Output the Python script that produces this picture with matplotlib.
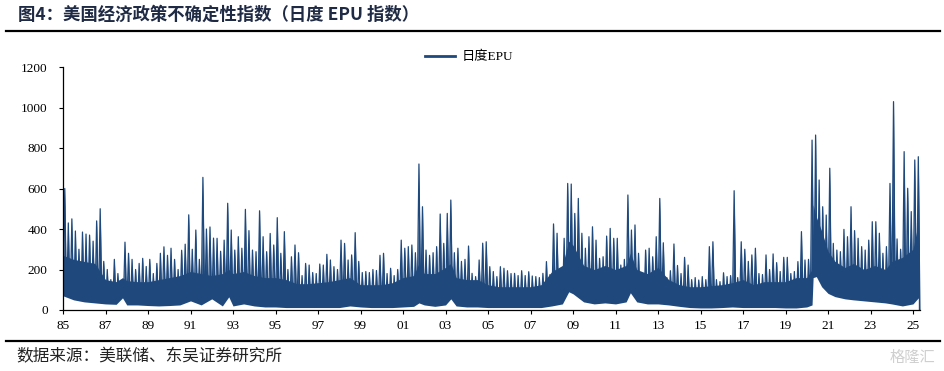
import matplotlib
matplotlib.use('Agg')
import matplotlib.pyplot as plt
from matplotlib.lines import Line2D
import numpy as np

# ---------------- data ----------------
# Bi-monthly maxima of the daily EPU index, Jan 1985 - Mar 2025
epu_peak = [
    600, 430, 450, 390, 300, 385,   # 1985
    375, 370, 340, 440, 500, 240,   # 1986
    200, 150, 250, 180, 130, 335,   # 1987
    280, 250, 200, 230, 255, 215,   # 1988
    250, 180, 230, 280, 312, 270,   # 1989
    305, 250, 200, 295, 325, 470,   # 1990
    300, 395, 250, 655, 400, 410,   # 1991
    355, 354, 290, 345, 527, 395,   # 1992
    296, 362, 305, 497, 392, 296,   # 1993
    288, 490, 362, 288, 378, 321,   # 1994
    456, 280, 387, 200, 263, 321,   # 1995
    283, 170, 230, 222, 185, 180,   # 1996
    227, 222, 275, 247, 214, 200,   # 1997
    345, 329, 247, 272, 382, 240,   # 1998
    185, 190, 185, 200, 195, 270,   # 1999
    280, 180, 206, 170, 200, 345,   # 2000
    305, 313, 321, 283, 721, 510,   # 2001
    296, 270, 283, 313, 474, 329,   # 2002
    477, 543, 283, 305, 240, 250,   # 2003
    316, 181, 165, 247, 330, 337,   # 2004
    214, 190, 165, 214, 206, 194,   # 2005
    180, 181, 170, 194, 170, 189,   # 2006
    168, 165, 160, 181, 239, 175,   # 2007
    425, 379, 200, 354, 625, 622,   # 2008
    477, 551, 379, 305, 362, 411,   # 2009
    345, 255, 263, 365, 403, 354,   # 2010
    354, 222, 250, 568, 395, 420,   # 2011
    280, 181, 296, 305, 263, 362,   # 2012
    551, 332, 160, 194, 326, 220,   # 2013
    180, 260, 222, 150, 160, 148,   # 2014
    165, 150, 313, 337, 150, 140,   # 2015
    184, 165, 170, 589, 160, 337,   # 2016
    300, 240, 272, 305, 180, 175,   # 2017
    272, 200, 277, 234, 190, 260,   # 2018
    260, 180, 190, 239, 387, 247,   # 2019
    250, 839, 864, 642, 510, 469,   # 2020
    700, 329, 296, 288, 398, 362,   # 2021
    510, 392, 354, 313, 296, 345,   # 2022
    436, 436, 379, 280, 313, 625,   # 2023
    1029, 351, 300, 782, 601, 486,  # 2024
    741, 757,                       # 2025
]

# Dense body of the daily series: lower edge (floor) and solid-band top
band_x = [1985.0, 1985.5, 1986.0, 1986.5, 1987.0, 1987.5, 1987.8, 1988.0, 1988.5,
          1989.0, 1989.5, 1990.0, 1990.5, 1991.0, 1991.5, 1992.0, 1992.5, 1992.8,
          1993.0, 1993.5, 1994.0, 1994.5, 1995.0, 1995.5, 1996.0, 1996.5, 1997.0,
          1997.5, 1998.0, 1998.5, 1999.0, 1999.5, 2000.0, 2000.5, 2001.0, 2001.5,
          2001.75, 2002.0, 2002.5, 2003.0, 2003.25, 2003.5, 2004.0, 2004.5, 2005.0,
          2005.5, 2006.0, 2006.5, 2007.0, 2007.5, 2008.0, 2008.5, 2008.8, 2009.0,
          2009.5, 2010.0, 2010.5, 2011.0, 2011.5, 2011.7, 2012.0, 2012.5, 2013.0,
          2013.5, 2014.0, 2014.5, 2015.0, 2015.5, 2016.0, 2016.5, 2017.0, 2017.5,
          2018.0, 2018.5, 2019.0, 2019.5, 2020.0, 2020.25, 2020.3, 2020.45, 2020.7,
          2021.0, 2021.33, 2021.8, 2022.2, 2022.7, 2023.2, 2023.7, 2024.0, 2024.5,
          2025.0, 2025.25]
band_floor = [70, 50, 40, 35, 30, 28, 60, 25, 25,
              22, 20, 22, 25, 45, 25, 55, 20, 65,
              20, 30, 20, 15, 15, 12, 12, 12, 12,
              12, 12, 20, 15, 12, 12, 12, 15, 18,
              35, 25, 18, 25, 55, 20, 15, 15, 12,
              12, 12, 12, 12, 12, 20, 30, 90, 80,
              40, 30, 35, 30, 40, 85, 40, 30, 30,
              25, 18, 12, 10, 10, 12, 15, 12, 12,
              12, 12, 10, 10, 15, 25, 160, 165, 115,
              82, 66, 55, 50, 45, 40, 35, 30, 20,
              30, 60]
band_top = [270, 250, 240, 230, 150, 140, 160, 145, 140,
            140, 150, 160, 170, 190, 180, 170, 180, 200,
            180, 190, 170, 160, 160, 150, 130, 130, 135,
            140, 150, 160, 125, 125, 125, 135, 160, 170,
            230, 180, 180, 210, 230, 160, 150, 150, 125,
            115, 115, 115, 115, 125, 190, 220, 340, 320,
            220, 200, 220, 200, 220, 280, 200, 180, 210,
            150, 125, 115, 115, 120, 125, 135, 150, 125,
            140, 140, 140, 160, 160, 200, 520, 460, 390,
            290, 240, 210, 230, 200, 220, 200, 240, 260,
            300, 430]

series_name = '日度EPU'
xtick_years = list(range(1985, 2026, 2))
xtick_labels = ['85', '87', '89', '91', '93', '95', '97', '99', '01', '03', '05',
                '07', '09', '11', '13', '15', '17', '19', '21', '23', '25']
yticks = [0, 200, 400, 600, 800, 1000, 1200]

title = '图4：美国经济政策不确定性指数（日度 EPU 指数）'
source = '数据来源：美联储、东吴证券研究所'

# ---------------- drawing ----------------
W, H = 945, 371
color = '#1f497d'
serif = ['Liberation Serif', 'Noto Sans CJK SC']
cjk = ['Noto Sans CJK SC', 'DejaVu Sans']

fig = plt.figure(figsize=(W / 100, H / 100), dpi=100)
ax_left, ax_right, ax_bottom, ax_top = 63, 920, 310, 67
ax = fig.add_axes([ax_left / W, 1 - ax_bottom / H,
                   (ax_right - ax_left) / W, (ax_bottom - ax_top) / H])

# each bi-monthly maximum drawn as a spike rising from the axis
peaks = np.asarray(epu_peak, dtype=float)
peak_x = 1985 + (np.arange(len(peaks)) + 0.5) / 6.0
half = 1.0 / 12.0
zeros = np.zeros_like(peaks)
zx = np.column_stack([peak_x - half, peak_x, peak_x + half]).ravel()
zy = np.column_stack([zeros, peaks, zeros]).ravel()
ax.fill_between(zx, 0, zy, color=color, lw=0, zorder=2)
ax.plot(zx, zy, color=color, lw=0.9, zorder=2)
ax.fill_between(band_x, 0, band_top, color=color, lw=0, zorder=2)
ax.fill_between(band_x, 0, band_floor, color='white', lw=0, zorder=3)

ax.set_xlim(1985, 1985 + (ax_right - ax_left) / 21.25)
ax.set_ylim(0, 1200)
ax.set_xticks(xtick_years)
ax.set_xticklabels(xtick_labels)
ax.set_yticks(yticks)
ax.set_yticklabels([str(v) for v in yticks])
for lab in ax.get_xticklabels() + ax.get_yticklabels():
    lab.set_family(serif)
    lab.set_fontsize(9.5)
ax.tick_params(axis='both', direction='out', length=3, width=0.8, colors='black')
ax.tick_params(axis='y', pad=8)
ax.tick_params(axis='x', pad=4)
for s in ('top', 'right'):
    ax.spines[s].set_visible(False)
for s in ('left', 'bottom'):
    ax.spines[s].set_linewidth(0.9)
    ax.spines[s].set_zorder(5)

handle = Line2D([], [], color=color, lw=2)
fig.legend([handle], [series_name], loc='center left',
           bbox_to_anchor=(425 / W, 1 - 57 / H), frameon=False,
           prop={'family': serif, 'size': 9.5}, handlelength=2.3,
           handletextpad=0.5, borderpad=0, borderaxespad=0)

fig.text(18 / W, 1 - 15 / H, title, fontsize=12.5, fontweight='bold',
         family=cjk, va='center', ha='left', color='#1f2a44')
fig.add_artist(Line2D([6 / W, 940 / W], [1 - 31 / H, 1 - 31 / H],
                      color='black', lw=1.6))
fig.add_artist(Line2D([6 / W, 940 / W], [1 - 341 / H, 1 - 341 / H],
                      color='black', lw=1.6))
fig.text(16 / W, 1 - 357 / H, source, fontsize=12, family=cjk,
         va='center', ha='left', color='#222222')
fig.text(935 / W, 1 - 357 / H, '格隆汇', fontsize=11, family=cjk,
         va='center', ha='right', color='#cfcfcf')

fig.savefig('out.png', dpi=100)
